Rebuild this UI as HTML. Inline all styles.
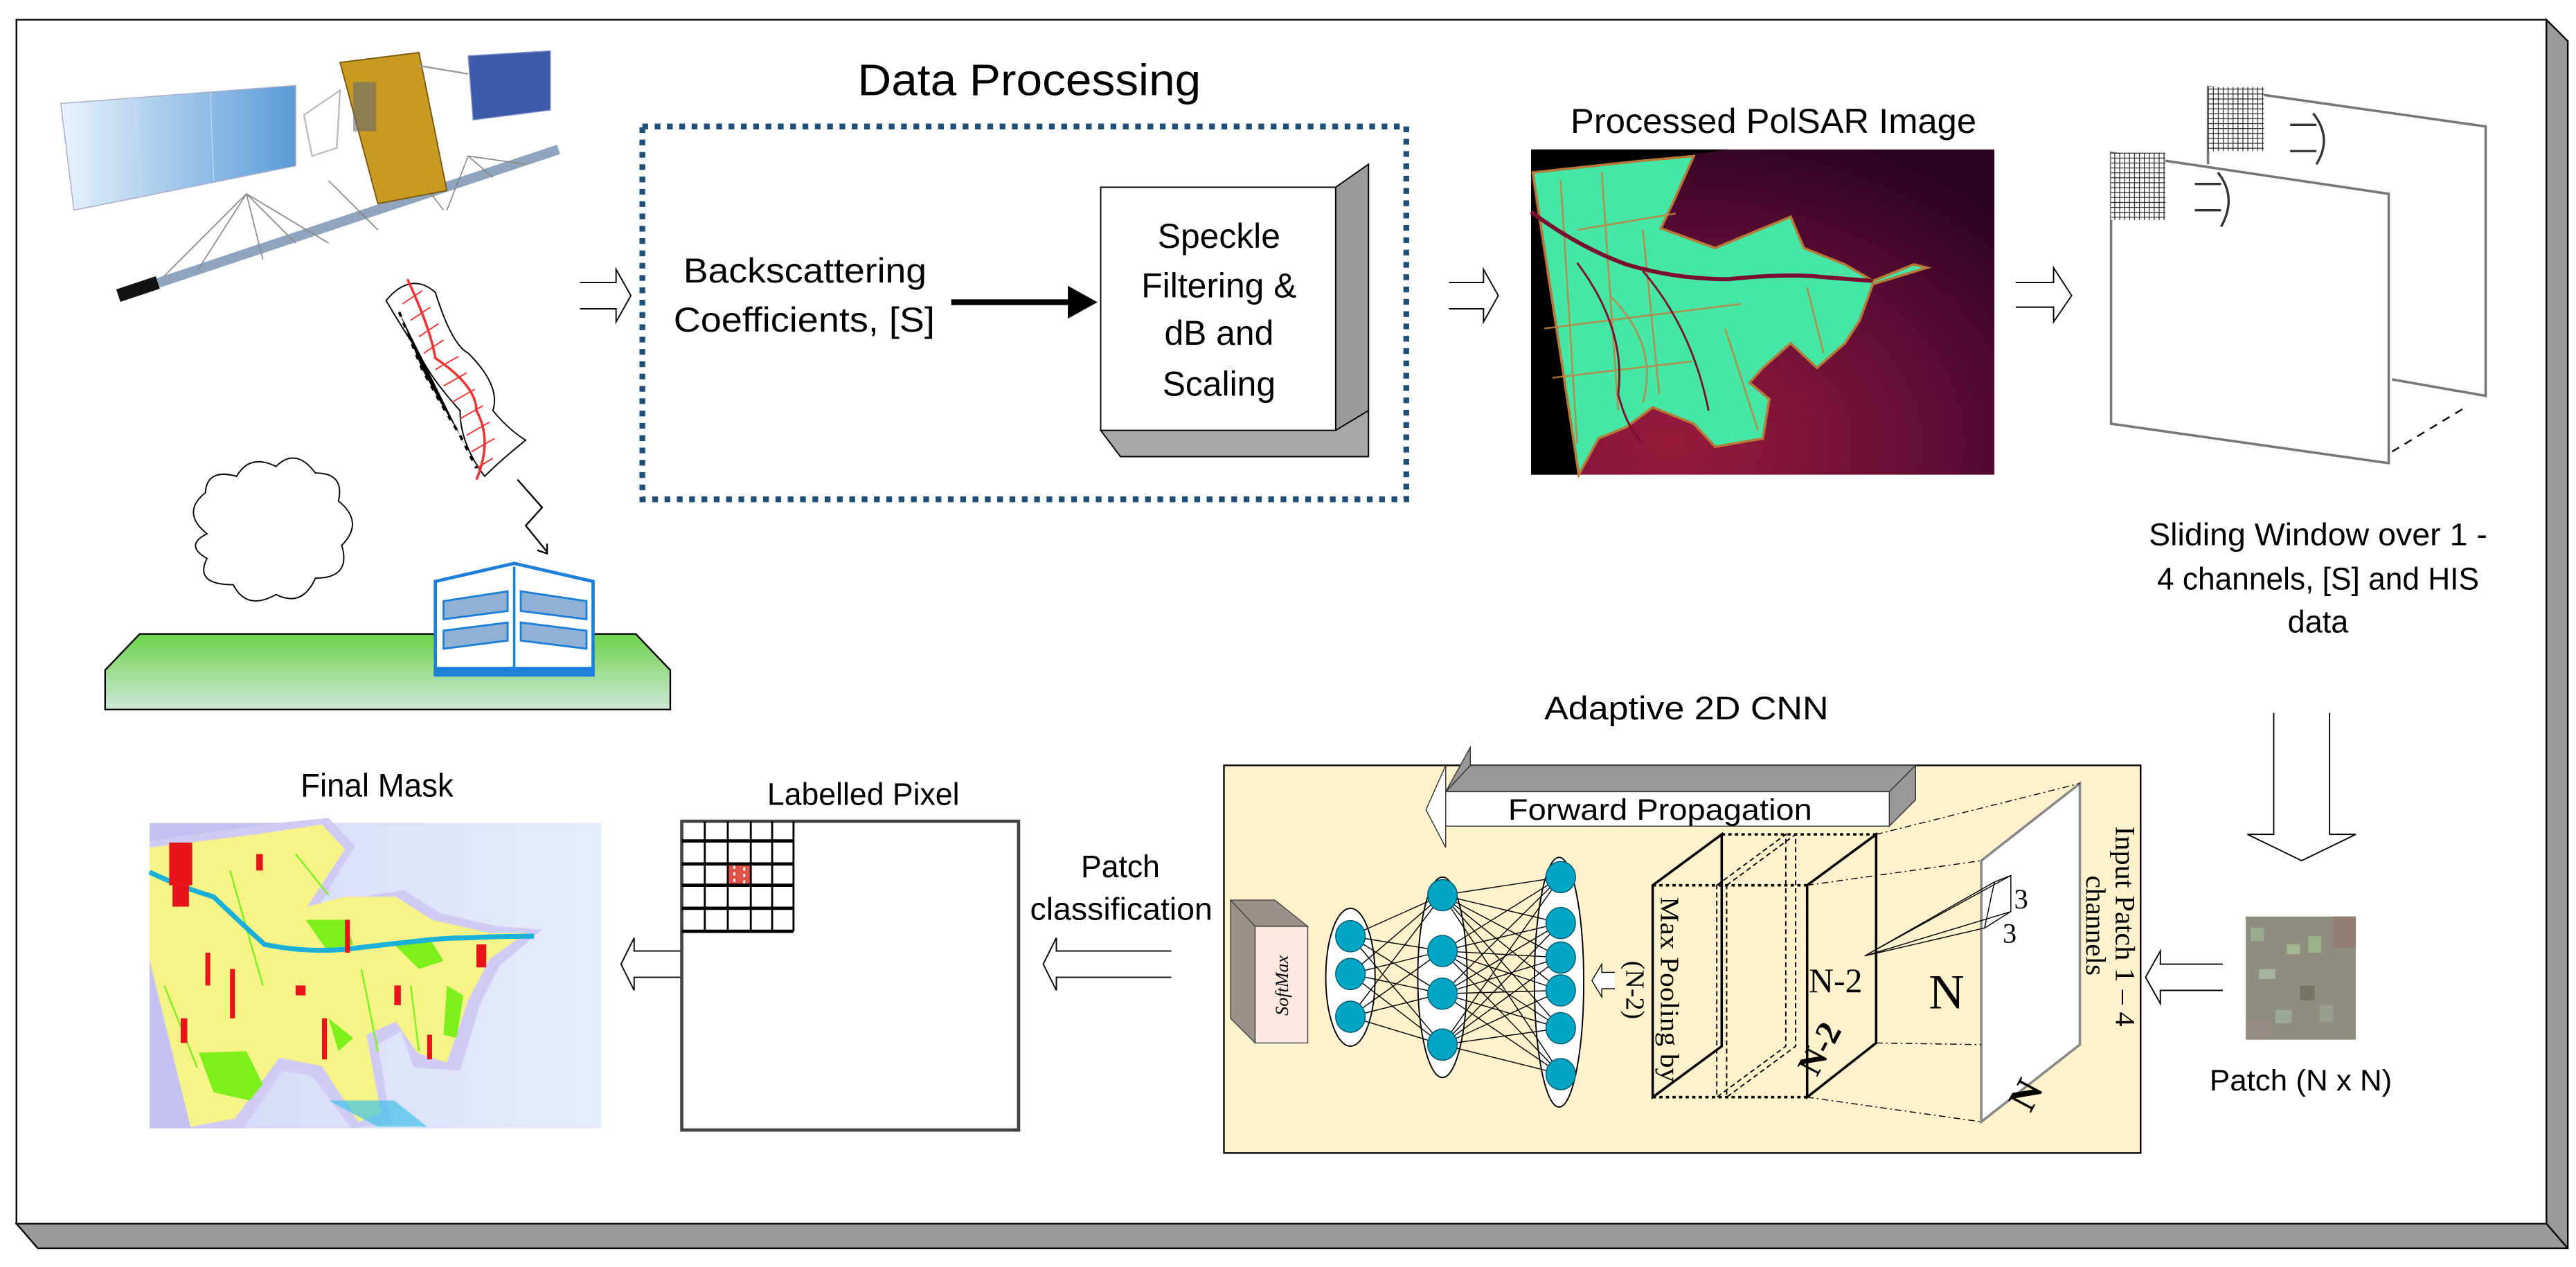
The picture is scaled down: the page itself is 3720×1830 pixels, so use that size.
<!DOCTYPE html>
<html><head><meta charset="utf-8">
<style>
html,body{margin:0;padding:0;background:#fff;}
svg{display:block;}
.t{font-family:"Liberation Sans",sans-serif;fill:#000;}
.s{font-family:"Liberation Serif",serif;fill:#000;}
</style></head>
<body>
<svg width="3720" height="1830" viewBox="0 0 1568 771.4" preserveAspectRatio="none" xmlns="http://www.w3.org/2000/svg">
<defs>
<linearGradient id="gr" x1="0" y1="0" x2="0" y2="1"><stop offset="0" stop-color="#6fd34a"/><stop offset="1" stop-color="#cde7d8"/></linearGradient>
<linearGradient id="pan" x1="0" y1="0" x2="1" y2="0"><stop offset="0" stop-color="#e8f3fb"/><stop offset="1" stop-color="#5a9bd8"/></linearGradient>
<radialGradient id="sar" cx="0.3" cy="0.9" r="1.0"><stop offset="0" stop-color="#9a1a3c"/><stop offset="0.6" stop-color="#5e0c34"/><stop offset="1" stop-color="#2a0420"/></radialGradient>
<linearGradient id="msk" x1="0" y1="0" x2="1" y2="0"><stop offset="0" stop-color="#d4d6f8"/><stop offset="1" stop-color="#e6ecfb"/></linearGradient>
<pattern id="grid" width="3" height="3" patternUnits="userSpaceOnUse"><rect width="3" height="3" fill="#fff"/><path d="M0 0H3M0 0V3" stroke="#222" stroke-width="1"/></pattern>
</defs>
<!-- outer frame with shadow -->
<polygon points="1550,12 1563,25 1563,760 23,760 10,745 1550,745" fill="#9a9a9a" stroke="#000" stroke-width="1"/>
<rect x="10" y="12" width="1540" height="733" fill="#fff" stroke="#000" stroke-width="1"/>
<line x1="1550" y1="745" x2="1563" y2="760" stroke="#000" stroke-width="1"/>

<!-- satellite -->
<line x1="88" y1="175" x2="340" y2="91" stroke="#8ea5bd" stroke-width="6"/>
<line x1="72" y1="180" x2="96" y2="172" stroke="#111" stroke-width="8"/>
<g stroke="#888" stroke-width="0.7" fill="none">
<path d="M100,168 L150,118 L200,148 M150,118 L160,158 M150,118 L120,165 M270,128 L245,95 M272,128 L285,95 L320,100 M300,108 L285,95 M180,148 L150,118 M230,140 L200,110"/>
</g>
<polygon points="37,63 180,52 180,101 45,128" fill="url(#pan)" stroke="#aac" stroke-width="0.6"/>
<g stroke="#c9dcec" stroke-width="0.5"><line x1="82" y1="60" x2="86" y2="118"/><line x1="128" y1="56" x2="130" y2="110"/></g>
<polygon points="285,34 335,31 335,67 288,73" fill="#3d5aa8" stroke="#7a8ac8" stroke-width="0.6"/>
<polygon points="185,70 207,55 205,90 190,95" fill="none" stroke="#bbb" stroke-width="1"/>
<polygon points="207,38 255,32 272,116 230,124" fill="#c89a22" stroke="#7a5a10" stroke-width="0.8"/>
<rect x="215" y="50" width="14" height="30" fill="#6b6b6b" opacity="0.6"/>
<line x1="255" y1="40" x2="285" y2="45" stroke="#999"/>

<!-- wave -->
<path d="M235,183 Q250,165 265,178 Q275,210 285,215 Q305,235 300,250 Q310,262 320,268 Q305,280 295,290 Q280,270 280,250 Q262,230 255,215 Q245,200 235,183z" fill="#fff" stroke="#000" stroke-width="0.8"/>
<path d="M248,170 Q262,200 265,218 Q290,235 290,250 Q300,268 290,292" fill="none" stroke="#e33" stroke-width="1.5"/>
<g stroke="#e33" stroke-width="0.8"><path d="M245,185l12,-8M250,195l12,-8M255,205l12,-8M258,215l12,-8M265,225l14,-8M270,235l14,-8M275,245l14,-8M280,255l14,-8M284,265l14,-8M287,275l14,-8M290,285l10,-6"/></g>
<g stroke="#000" stroke-width="1.6" stroke-dasharray="3,4"><path d="M243,190 L257,225 L268,245 L280,265 L290,285"/></g>
<polyline points="315,292 330,309 320,320 333,336" fill="none" stroke="#000" stroke-width="1"/>
<path d="M327,335 L333,337 L333,331" fill="none" stroke="#000" stroke-width="1"/>

<!-- cloud -->
<path d="M126,325 Q110,312 125,300 Q126,285 144,290 Q152,276 168,284 Q180,272 192,288 Q210,288 206,305 Q222,318 208,332 Q214,352 192,352 Q184,370 168,362 Q150,372 142,356 Q118,356 126,340 Q112,332 126,325z" fill="#fff" stroke="#000" stroke-width="0.8"/>

<!-- ground and building -->
<polygon points="85,386 387,386 408,408 408,432 64,432 64,408" fill="url(#gr)" stroke="#000" stroke-width="1"/>
<polygon points="265,354 313,343 361,354 361,411 265,411" fill="#fff" stroke="#1e7fd8" stroke-width="2"/>
<line x1="313" y1="345" x2="313" y2="411" stroke="#1e7fd8" stroke-width="1.5"/>
<polygon points="270,366 309,360 309,372 270,377" fill="#8fb1d6" stroke="#1e7fd8" stroke-width="1.2"/>
<polygon points="270,384 309,379 309,390 270,395" fill="#8fb1d6" stroke="#1e7fd8" stroke-width="1.2"/>
<polygon points="317,360 357,366 357,377 317,372" fill="#8fb1d6" stroke="#1e7fd8" stroke-width="1.2"/>
<polygon points="317,379 357,384 357,395 317,390" fill="#8fb1d6" stroke="#1e7fd8" stroke-width="1.2"/>
<rect x="265" y="406" width="96" height="4" fill="#1e7fd8"/>

<!-- hollow arrows -->
<g fill="#fff" stroke="#000" stroke-width="0.8">
<path d="M353,172 H375 V164 L384,180 L375,196 V188 H353"/>
<path d="M882,172 H903 V164 L912,180 L903,196 V188 H882"/>
<path d="M1227,172 H1250 V163 L1261,180 L1250,196 V187 H1227"/>
<path d="M1384,434 V508 H1368 L1401,524 L1434,508 H1418 V434"/>
<path d="M1353,587 H1315 V579 L1306,595 L1315,611 V603 H1353"/>
<path d="M713,579 H643 V571 L635,587 L643,603 V595 H713"/>
<path d="M415,579 H386 V571 L378,587 L386,603 V595 H415"/>
</g>

<!-- Data processing -->
<text x="522" y="58" class="t" font-size="27" textLength="209" lengthAdjust="spacingAndGlyphs">Data Processing</text>
<rect x="391" y="77" width="465" height="227" fill="none" stroke="#1f4e79" stroke-width="3.5" stroke-dasharray="3.5,4"/>
<text x="416" y="172" class="t" font-size="21" textLength="148" lengthAdjust="spacingAndGlyphs">Backscattering</text>
<text x="410" y="202" class="t" font-size="21" textLength="159" lengthAdjust="spacingAndGlyphs">Coefficients, [S]</text>
<line x1="579" y1="184" x2="655" y2="184" stroke="#000" stroke-width="3.5"/>
<polygon points="650,174 668,184 650,194" fill="#000"/>
<polygon points="813,114 833,100 833,250 813,262" fill="#9b9b9b" stroke="#000" stroke-width="0.8"/>
<polygon points="670,262 813,262 833,250 833,278 682,278" fill="#a8a8a8" stroke="#000" stroke-width="0.8"/>
<rect x="670" y="114" width="143" height="148" fill="#fff" stroke="#000" stroke-width="0.8"/>
<g class="t" font-size="21" text-anchor="middle">
<text x="742" y="151">Speckle</text><text x="742" y="181">Filtering &amp;</text><text x="742" y="210">dB and</text><text x="742" y="241">Scaling</text>
</g>

<!-- PolSAR image -->
<text x="956" y="81" class="t" font-size="21" textLength="247" lengthAdjust="spacingAndGlyphs">Processed PolSAR Image</text>
<rect x="932" y="91" width="282" height="198" fill="url(#sar)"/>
<polygon points="932,91 1052,91 932,108" fill="#000"/>
<polygon points="932,108 932,289 961,289" fill="#000"/>
<path d="M933,105 L998,98 L1031,95 L1019,122 L1011,139 L1044,151 L1073,139 L1090,132 L1098,151 L1123,161 L1140,171 L1165,161 L1173,163 L1140,173 L1132,195 L1123,209 L1106,224 L1090,209 L1073,224 L1065,233 L1077,243 L1073,267 L1044,272 L1031,258 L1006,248 L990,260 L973,267 L961,289 Z" fill="#45e6a6" stroke="#b87838" stroke-width="1.5"/>
<g stroke="#c08040" stroke-width="1.1" fill="none" opacity="0.85">
<path d="M950,110 L960,270 M975,105 L985,250 M1000,140 L1010,240 M940,200 L1060,185 M945,230 L1030,220 M960,140 L1020,130 M1050,200 Q1060,230 1070,262 M1100,175 L1110,215 M980,180 Q1010,210 1000,245"/>
</g>
<path d="M932,129 Q960,150 990,161 Q1020,170 1052,170 Q1080,167 1102,168 Q1125,170 1140,171" fill="none" stroke="#7a1030" stroke-width="2.5"/>
<path d="M960,160 Q990,200 985,240 Q990,260 1000,270 M1000,165 Q1030,200 1040,250" fill="none" stroke="#7a1030" stroke-width="1.2"/>

<!-- sliding windows -->
<polygon points="1344,53 1513,77 1513,241 1456,231 1456,275 1344,250" fill="#fff"/>
<polyline points="1344,100 1344,53 1513,77 1513,241 1456,231" fill="none" stroke="#777" stroke-width="1.5"/>
<rect x="1344" y="53" width="34" height="39" fill="url(#grid)"/>
<polygon points="1285,93 1454,118 1454,282 1285,258" fill="#fff" stroke="#777" stroke-width="1.5"/>
<rect x="1285" y="93" width="33" height="41" fill="url(#grid)"/>
<line x1="1456" y1="275" x2="1499" y2="249" stroke="#000" stroke-width="1" stroke-dasharray="5,4"/>
<g fill="none" stroke="#333" stroke-width="1.4">
<path d="M1336,112 L1352,112 M1336,128 L1352,128 M1350,105 Q1362,120 1352,138"/>
<path d="M1394,76 L1410,76 M1394,92 L1410,92 M1408,69 Q1420,84 1410,100"/>
</g>
<g class="t" font-size="19">
<text x="1308" y="332" textLength="206" lengthAdjust="spacingAndGlyphs">Sliding Window over 1 -</text>
<text x="1313" y="359" textLength="196" lengthAdjust="spacingAndGlyphs">4 channels, [S] and HIS</text>
<text x="1411" y="385" text-anchor="middle">data</text>
</g>

<!-- Adaptive CNN -->
<text x="940" y="438" class="t" font-size="20" textLength="173" lengthAdjust="spacingAndGlyphs">Adaptive 2D CNN</text>
<rect x="745" y="466" width="558" height="236" fill="#fff2cc" stroke="#000" stroke-width="1"/>
<polygon points="880,482 895,466 1166,466 1150,482" fill="#999" stroke="#333" stroke-width="0.6"/>
<polygon points="1150,482 1166,466 1166,487 1150,503" fill="#999" stroke="#333" stroke-width="0.6"/>
<polygon points="880,482 895,455 895,466" fill="#999" stroke="#333" stroke-width="0.6"/>
<rect x="880" y="482" width="270" height="21" fill="#fff" stroke="#333" stroke-width="0.6"/>
<polygon points="880,466 868,493 880,516 880,503 880,482" fill="#fff" stroke="#333" stroke-width="0.6"/>
<text x="918" y="499" class="t" font-size="18" textLength="185" lengthAdjust="spacingAndGlyphs">Forward Propagation</text>

<polygon points="749,548 776,548 796,564 764,564" fill="#9a918a" stroke="#444" stroke-width="0.6"/>
<polygon points="749,548 764,564 764,635 749,620" fill="#9a918a" stroke="#444" stroke-width="0.6"/>
<rect x="764" y="564" width="32" height="71" fill="#fde9e0" stroke="#444" stroke-width="0.6"/>
<text transform="translate(784,600) rotate(-90)" class="s" font-size="11" font-style="italic" text-anchor="middle">SoftMax</text>

<g fill="#fff" stroke="#000" stroke-width="0.8">
<ellipse cx="822" cy="595" rx="15" ry="42"/>
<ellipse cx="878" cy="595" rx="15" ry="61"/>
<ellipse cx="949" cy="598" rx="15" ry="76"/>
</g>
<g stroke="#000" stroke-width="0.6">
<path d="M822,570L878,545M822,570L878,579M822,570L878,605M822,570L878,636M822,593L878,545M822,593L878,579M822,593L878,605M822,593L878,636M822,619L878,545M822,619L878,579M822,619L878,605M822,619L878,636"/>
<path d="M878,545L950,534M878,545L950,562M878,545L950,583M878,545L950,603M878,545L950,626M878,545L950,654M878,579L950,534M878,579L950,562M878,579L950,583M878,579L950,603M878,579L950,626M878,579L950,654M878,605L950,534M878,605L950,562M878,605L950,583M878,605L950,603M878,605L950,626M878,605L950,654M878,636L950,534M878,636L950,562M878,636L950,583M878,636L950,603M878,636L950,626M878,636L950,654"/>
</g>
<g fill="#00a6c4" stroke="#005a70" stroke-width="0.6">
<ellipse cx="822" cy="570" rx="9" ry="9.5"/><ellipse cx="822" cy="593" rx="9" ry="9.5"/><ellipse cx="822" cy="619" rx="9" ry="9.5"/>
<ellipse cx="878" cy="545" rx="9" ry="9.5"/><ellipse cx="878" cy="579" rx="9" ry="9.5"/><ellipse cx="878" cy="605" rx="9" ry="9.5"/><ellipse cx="878" cy="636" rx="9" ry="9.5"/>
<ellipse cx="950" cy="534" rx="9" ry="9.5"/><ellipse cx="950" cy="562" rx="9" ry="9.5"/><ellipse cx="950" cy="583" rx="9" ry="9.5"/><ellipse cx="950" cy="603" rx="9" ry="9.5"/><ellipse cx="950" cy="626" rx="9" ry="9.5"/><ellipse cx="950" cy="654" rx="9" ry="9.5"/>
</g>
<path d="M983,592 H975 V587 L969,597 L975,607 V602 H983" fill="#fff" stroke="#000" stroke-width="0.6"/>

<!-- cube -->
<g fill="none" stroke="#000">
<polygon points="1006,539 1048,508 1048,637 1006,668" stroke-width="1.5"/>
<line x1="1048" y1="508" x2="1142" y2="508" stroke-width="1.5" stroke-dasharray="2,2"/>
<line x1="1006" y1="539" x2="1100" y2="539" stroke-width="1.5" stroke-dasharray="2,2"/>
<line x1="1006" y1="668" x2="1100" y2="668" stroke-width="1.5" stroke-dasharray="2,2"/>
<polygon points="1100,539 1142,508 1142,635 1100,668" stroke-width="1.5"/>
<polygon points="1045,539 1087,508 1087,637 1045,668" stroke-width="0.8" stroke-dasharray="3,2"/>
<polygon points="1051,539 1093,508 1093,637 1051,668" stroke-width="0.8" stroke-dasharray="3,2"/>
</g>
<text transform="translate(1011,546) rotate(90)" class="s" font-size="16" textLength="113" lengthAdjust="spacingAndGlyphs">Max Pooling by</text>
<text transform="translate(990,585) rotate(90)" class="s" font-size="16">(N-2)</text>
<text x="1101" y="604" class="s" font-size="21">N-2</text>
<text transform="translate(1106,656) rotate(-62)" class="s" font-size="21" font-weight="bold">N-2</text>
<polygon points="1206,524 1266,477 1266,636 1206,683" fill="#fff" stroke="#888" stroke-width="1.5"/>
<g stroke="#000" stroke-width="0.6" stroke-dasharray="4,2,1,2" fill="none">
<path d="M1142,508 L1266,477 M1100,539 L1206,524 M1142,635 L1206,636 M1100,668 L1206,683"/>
</g>
<g stroke="#000" stroke-width="0.6" fill="none">
<path d="M1135,582 L1224,533 M1135,582 L1214,537 M1135,582 L1224,555 M1135,582 L1208,565 M1214,537 L1224,533 L1224,555 L1208,565z"/>
</g>
<text x="1226" y="553" class="s" font-size="17">3</text>
<text x="1219" y="574" class="s" font-size="17">3</text>
<text x="1174" y="614" class="s" font-size="30">N</text>
<text transform="translate(1236,678) rotate(-62)" class="s" font-size="24" font-weight="bold">N</text>
<text transform="translate(1288,503) rotate(90)" class="s" font-size="17" textLength="122" lengthAdjust="spacingAndGlyphs">Input Patch 1 – 4</text>
<text transform="translate(1270,533) rotate(90)" class="s" font-size="17" textLength="61" lengthAdjust="spacingAndGlyphs">channels</text>

<!-- patch -->
<rect x="1367" y="558" width="67" height="75" fill="#8f8e7e"/>
<g opacity="0.75">
<rect x="1420" y="558" width="14" height="19" fill="#947a6e"/>
<rect x="1370" y="565" width="8" height="8" fill="#9fb896"/><rect x="1392" y="575" width="8" height="6" fill="#a8c49a"/><rect x="1405" y="570" width="8" height="10" fill="#a0c090"/>
<rect x="1375" y="590" width="10" height="6" fill="#b0c0a8"/><rect x="1400" y="600" width="9" height="9" fill="#6f6a5a"/><rect x="1385" y="615" width="10" height="8" fill="#a0b0a0"/><rect x="1412" y="612" width="8" height="10" fill="#9aa890"/>
<rect x="1367" y="620" width="14" height="13" fill="#988a88"/>
</g>
<text x="1345" y="664" class="t" font-size="18" textLength="111" lengthAdjust="spacingAndGlyphs">Patch (N x N)</text>

<text x="658" y="534" class="t" font-size="19" textLength="48" lengthAdjust="spacingAndGlyphs">Patch</text>
<text x="627" y="560" class="t" font-size="19" textLength="111" lengthAdjust="spacingAndGlyphs">classification</text>

<!-- labelled pixel -->
<text x="467" y="490" class="t" font-size="19" textLength="117" lengthAdjust="spacingAndGlyphs">Labelled Pixel</text>
<rect x="415" y="500" width="205" height="188" fill="#fff" stroke="#444" stroke-width="2"/>
<rect x="443" y="526" width="14" height="13" fill="#e0524a"/>
<g stroke="#fff" stroke-width="1.2" stroke-dasharray="2,2"><line x1="447" y1="527" x2="447" y2="538"/><line x1="453" y1="528" x2="453" y2="538"/></g>
<g stroke="#000" stroke-width="1.2">
<line x1="429" y1="500" x2="429" y2="567"/><line x1="443" y1="500" x2="443" y2="567"/><line x1="457" y1="500" x2="457" y2="567"/><line x1="470" y1="500" x2="470" y2="567"/><line x1="483" y1="500" x2="483" y2="567"/>
</g>
<g stroke="#000" stroke-width="2">
<line x1="415" y1="512" x2="483" y2="512"/><line x1="415" y1="526" x2="483" y2="526"/><line x1="415" y1="539" x2="483" y2="539"/><line x1="415" y1="553" x2="483" y2="553"/><line x1="415" y1="567" x2="483" y2="567"/>
</g>

<!-- final mask -->
<text x="183" y="485" class="t" font-size="20" textLength="93" lengthAdjust="spacingAndGlyphs">Final Mask</text>
<rect x="91" y="501" width="275" height="186" fill="url(#msk)"/>
<polygon points="91,501 196,501 91,518" fill="#c3c0f2"/>
<polygon points="91,518 91,687 118,687" fill="#c3c0f2"/>
<path d="M91,512 L160,502 L200,498 L216,515 L195,550 L246,542 L268,556 L303,564 L330,566 L304,588 L292,612 L280,652 L252,650 L244,628 L230,636 L238,684 L214,687 L190,655 L172,652 L148,687 L116,687 L91,586z" fill="#cfcbf5"/>
<path d="M91,516 L156,508 L196,502 L210,517 L187,552 L210,546 L241,546 L263,560 L298,568 L320,568 L298,584 L285,609 L272,647 L254,641 L241,622 L223,630 L232,678 L218,683 L196,649 L170,644 L143,681 L116,686 L91,584z" fill="#f6f388"/>
<path d="M121,641 L150,640 L160,660 L152,670 L130,665z M186,560 L210,560 L215,575 L200,580z M240,575 L262,572 L270,585 L255,590z M200,620 L215,632 L206,640z M272,600 L282,606 L278,632 L270,630z" fill="#7df01c"/>
<g fill="none" stroke="#7df01c" stroke-width="1"><path d="M140,530 L160,600 M220,590 L230,640 M100,600 L120,650 M250,600 L255,640 M180,520 L200,545"/></g>
<path d="M91,531 Q110,540 130,546 Q150,565 161,575 Q185,580 210,578 Q235,575 254,573 Q270,571 285,571 Q305,570 325,570" fill="none" stroke="#1ab0d8" stroke-width="3"/>
<path d="M200,670 L230,686 L260,686 L240,670z" fill="#40c0e8" opacity="0.7"/>
<g fill="#e8141a">
<rect x="103" y="513" width="14" height="26"/><rect x="105" y="539" width="10" height="13"/><rect x="156" y="520" width="4" height="10"/><rect x="180" y="600" width="6" height="6"/><rect x="110" y="620" width="4" height="15"/><rect x="140" y="590" width="3" height="30"/><rect x="210" y="560" width="3" height="20"/><rect x="240" y="600" width="4" height="12"/><rect x="196" y="620" width="3" height="25"/><rect x="290" y="575" width="6" height="14"/><rect x="260" y="630" width="3" height="15"/><rect x="125" y="580" width="3" height="20"/>
</g>
</svg>
</body></html>
